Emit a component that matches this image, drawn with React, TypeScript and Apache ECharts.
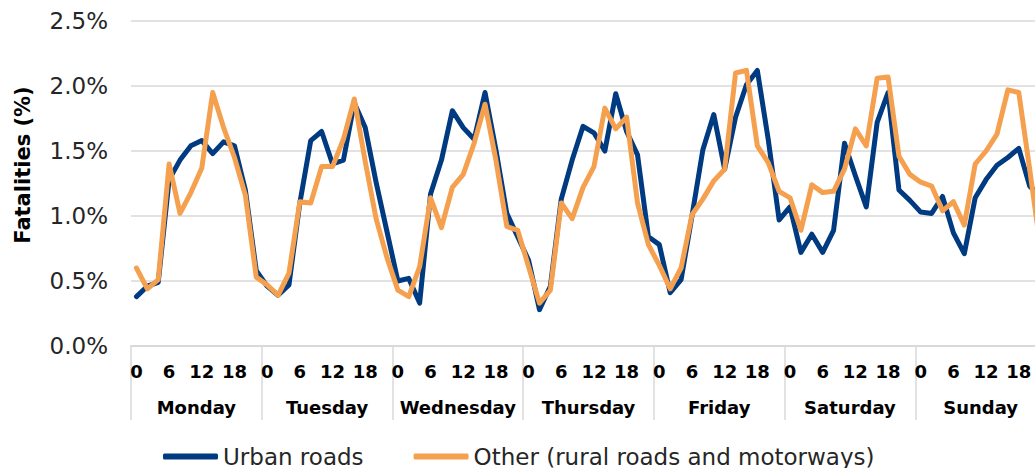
import React, { useEffect, useRef } from 'react';
import * as echarts from 'echarts';

const days = ['Monday', 'Tuesday', 'Wednesday', 'Thursday', 'Friday', 'Saturday', 'Sunday'];
const hours = ['0', '2', '4', '6', '8', '10', '12', '14', '16', '18', '20', '22'];

// Share of fatalities (%) per 2-hour slot, Monday 0h .. Sunday 22h
const urbanMon = [0.38, 0.46, 0.49, 1.28, 1.43, 1.54, 1.58, 1.48, 1.57, 1.54, 1.20, 0.58];
const urbanTue = [0.46, 0.39, 0.47, 1.10, 1.58, 1.65, 1.40, 1.43, 1.87, 1.68, 1.26, 0.88];
const urbanWed = [0.50, 0.52, 0.33, 1.17, 1.43, 1.81, 1.68, 1.59, 1.95, 1.51, 1.02, 0.84];
const urbanThu = [0.66, 0.28, 0.46, 1.13, 1.43, 1.69, 1.64, 1.50, 1.94, 1.65, 1.47, 0.84];
const urbanFri = [0.78, 0.41, 0.51, 1.00, 1.51, 1.78, 1.36, 1.76, 2.01, 2.12, 1.59, 0.97];
const urbanSat = [1.07, 0.72, 0.86, 0.72, 0.89, 1.56, 1.31, 1.07, 1.72, 1.95, 1.20, 1.12];
const urbanSun = [1.03, 1.02, 1.15, 0.87, 0.71, 1.14, 1.28, 1.39, 1.45, 1.52, 1.23, 1.15];

const otherMon = [0.60, 0.44, 0.51, 1.40, 1.02, 1.18, 1.37, 1.95, 1.68, 1.45, 1.16, 0.53];
const otherTue = [0.47, 0.39, 0.56, 1.11, 1.10, 1.38, 1.38, 1.59, 1.90, 1.42, 0.98, 0.68];
const otherWed = [0.43, 0.38, 0.61, 1.14, 0.91, 1.22, 1.32, 1.56, 1.86, 1.43, 0.92, 0.89];
const otherThu = [0.61, 0.33, 0.43, 1.10, 0.98, 1.22, 1.38, 1.83, 1.67, 1.76, 1.10, 0.78];
const otherFri = [0.62, 0.44, 0.60, 1.01, 1.13, 1.27, 1.36, 2.10, 2.12, 1.54, 1.41, 1.19];
const otherSat = [1.14, 0.89, 1.24, 1.18, 1.19, 1.36, 1.67, 1.54, 2.06, 2.07, 1.46, 1.32];
const otherSun = [1.26, 1.23, 1.04, 1.11, 0.93, 1.40, 1.50, 1.63, 1.97, 1.95, 1.36, 0.75];

const urbanRoads = [...urbanMon, ...urbanTue, ...urbanWed, ...urbanThu, ...urbanFri, ...urbanSat, ...urbanSun];
const otherRoads = [...otherMon, ...otherTue, ...otherWed, ...otherThu, ...otherFri, ...otherSat, ...otherSun];

const seriesNames = ['Urban roads', 'Other (rural roads and motorways)'];
const yMin = 0;
const yMax = 2.5;
const yStep = 0.5;

const FONT = "'DejaVu Sans', Verdana, sans-serif";
const NAVY = '#003A80';
const ORANGE = '#F5A04F';
const GRID = '#D9D9D9';

export default function App() {
  const ref = useRef<HTMLDivElement>(null);

  useEffect(() => {
    if (!ref.current) return;
    const chart = echarts.init(ref.current, null, { renderer: 'svg' });
    const categories = days.flatMap((d) => hours.map((h) => `${d}|${h}`));

    chart.setOption({
      animation: false,
      backgroundColor: '#ffffff',
      grid: { left: 131, right: 0, top: 21, bottom: 122, containLabel: false },
      legend: {
        data: seriesNames,
        top: 445,
        left: 163,
        padding: 0,
        icon: 'roundRect',
        itemWidth: 55,
        itemHeight: 6,
        itemGap: 50,
        textStyle: { fontFamily: FONT, fontSize: 23, color: '#262626' },
      },
      graphic: [
        {
          type: 'text',
          x: 23,
          y: 165,
          rotation: Math.PI / 2,
          style: {
            text: 'Fatalities (%)',
            fontFamily: FONT,
            fontSize: 21,
            fontWeight: 'bold',
            fill: '#000000',
            align: 'center',
            verticalAlign: 'middle',
          },
        },
      ],
      xAxis: [
        {
          type: 'category',
          data: categories,
          boundaryGap: true,
          position: 'bottom',
          axisLine: { show: true, lineStyle: { color: GRID, width: 1.5 } },
          axisTick: { show: false },
          splitLine: { show: false },
          axisLabel: {
            interval: 2,
            margin: 16,
            fontFamily: FONT,
            fontSize: 18,
            fontWeight: 'bold',
            color: '#000000',
            formatter: (v: string) => v.split('|')[1],
          },
        },
        {
          type: 'category',
          data: days,
          boundaryGap: true,
          position: 'bottom',
          axisLine: { show: true, lineStyle: { color: GRID, width: 1.5 } },
          axisTick: { show: true, length: 74, interval: 0, lineStyle: { color: GRID, width: 1.5 } },
          splitLine: { show: false },
          axisLabel: {
            interval: 0,
            margin: 52,
            fontFamily: FONT,
            fontSize: 18,
            fontWeight: 'bold',
            color: '#000000',
          },
        },
      ],
      yAxis: {
        type: 'value',
        min: yMin,
        max: yMax,
        interval: yStep,
        axisLine: { show: false },
        axisTick: { show: false },
        splitLine: { show: true, lineStyle: { color: GRID, width: 1.5 } },
        axisLabel: {
          margin: 23,
          fontFamily: FONT,
          fontSize: 23,
          color: '#262626',
          formatter: (v: number) => v.toFixed(1) + '%',
        },
      },
      series: [
        {
          name: seriesNames[0],
          type: 'line',
          xAxisIndex: 0,
          data: urbanRoads,
          showSymbol: false,
          symbol: 'none',
          lineStyle: { color: NAVY, width: 5, join: 'round', cap: 'round' },
          itemStyle: { color: NAVY },
        },
        {
          name: seriesNames[1],
          type: 'line',
          xAxisIndex: 0,
          data: otherRoads,
          showSymbol: false,
          symbol: 'none',
          lineStyle: { color: ORANGE, width: 5, join: 'round', cap: 'round' },
          itemStyle: { color: ORANGE },
        },
      ],
    });

    return () => chart.dispose();
  }, []);

  return (
    <div
      style={{
        position: 'absolute',
        left: 0,
        top: 0,
        width: 1035,
        height: 468,
        overflow: 'hidden',
        background: '#ffffff',
      }}
    >
      <div ref={ref} style={{ width: 1046, height: 468 }} />
    </div>
  );
}
